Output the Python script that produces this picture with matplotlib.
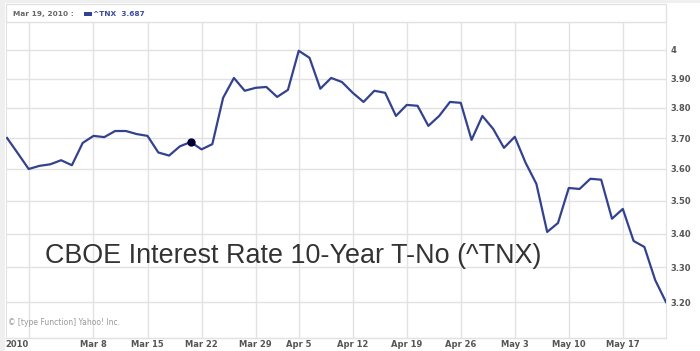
import numpy as np
import matplotlib.pyplot as plt
from matplotlib.patches import Rectangle
from matplotlib.ticker import NullLocator

# ^TNX daily closes, one value per trading day (index on the x axis)
tnx = [3.70, 3.65, 3.60, 3.61, 3.615, 3.628, 3.612, 3.684, 3.707, 3.703,
       3.723, 3.723, 3.713, 3.707, 3.653, 3.643, 3.673, 3.687, 3.663, 3.68,
       3.834, 3.902, 3.858, 3.868, 3.871, 3.837, 3.861, 3.997, 3.972, 3.865,
       3.902, 3.888, 3.851, 3.820, 3.858, 3.851, 3.773, 3.810, 3.807, 3.740,
       3.773, 3.820, 3.817, 3.694, 3.773, 3.730, 3.668, 3.704, 3.620, 3.553,
       3.405, 3.432, 3.540, 3.537, 3.569, 3.566, 3.445, 3.475, 3.378, 3.360,
       3.263, 3.200]
marker_idx = 17   # Mar 19, 2010

week_idx = [2, 8, 13, 18, 23, 27, 32, 37, 42, 47, 52, 57]
week_labels = ['2010', 'Mar 8', 'Mar 15', 'Mar 22', 'Mar 29', 'Apr 5',
               'Apr 12', 'Apr 19', 'Apr 26', 'May 3', 'May 10', 'May 17']
y_ticks = [3.20, 3.30, 3.40, 3.50, 3.60, 3.70, 3.80, 3.90, 4.0]
y_labels = ['3.20', '3.30', '3.40', '3.50', '3.60', '3.70', '3.80', '3.90', '4']

line_col = '#33428f'
grid_col = '#e2e2e2'
lab_col = '#555555'

fig = plt.figure(figsize=(7, 3.51), dpi=100)
W, H = 700, 351

# grey page border strips (left and top)
fig.patches.append(Rectangle((0, 0), 5 / W, 1, transform=fig.transFigure,
                             facecolor='#efefef', edgecolor='none', zorder=0))
fig.patches.append(Rectangle((0, 1 - 3 / H), 1, 3 / H, transform=fig.transFigure,
                             facecolor='#efefef', edgecolor='none', zorder=0))

left, right = 6 / W, 666 / W
top, bottom = 1 - 22 / H, 1 - 338 / H
ax = fig.add_axes([left, bottom, right - left, top - bottom])

x = np.arange(len(tnx))
ax.plot(x, tnx, color=line_col, lw=1.6, solid_joinstyle='round', zorder=3)
ax.plot(marker_idx, tnx[marker_idx], 'o', color='#000033', ms=5, zorder=4)

ax.set_yscale('log')
ax.set_ylim(3.10, 4.10)
ax.set_xlim(-0.1, 61.0)
ax.yaxis.set_minor_locator(NullLocator())
ax.set_yticks(y_ticks)
ax.set_yticklabels(y_labels)
ax.yaxis.tick_right()
ax.set_xticks(week_idx)
ax.set_xticklabels(week_labels)
ax.tick_params(axis='both', length=0, labelsize=6, labelcolor=lab_col)
ax.tick_params(axis='y', pad=3)
ax.tick_params(axis='x', pad=1.5)
for t in ax.get_xticklabels() + ax.get_yticklabels():
    t.set_fontweight('bold')
ax.get_xticklabels()[0].set_ha('right')
ax.grid(True, color=grid_col, lw=1)
ax.set_axisbelow(True)
for s in ax.spines.values():
    s.set_color(grid_col)

# header box with the marker readout
fig.patches.append(Rectangle((left, top), right - left, 18 / H,
                             transform=fig.transFigure, facecolor='white',
                             edgecolor=grid_col, lw=1, zorder=1))
fig.text(13 / W, 1 - 14 / H, 'Mar 19, 2010 :', fontsize=5.3, fontweight='bold',
         color='#666666', va='center')
fig.patches.append(Rectangle((84 / W, 1 - 16 / H), 8 / W, 4 / H,
                             transform=fig.transFigure, facecolor='#33428f',
                             edgecolor='none', zorder=2))
fig.text(93 / W, 1 - 14 / H, '^TNX  3.687', fontsize=5.3, fontweight='bold',
         color='#3a4aa0', va='center')

# bottom label strip border
fig.lines.append(plt.Line2D([left, right], [bottom, bottom], transform=fig.transFigure,
                            color=grid_col, lw=1))

ax.text(0.003, 0.05, '\u00a9 [type Function] Yahoo! Inc.', transform=ax.transAxes,
        fontsize=5.5, color='#999999', va='center')

fig.text(45 / W, 1 - 256 / H, 'CBOE Interest Rate 10-Year T-No (^TNX)',
         fontsize=19.4, family='Liberation Sans', color='#333333', va='center')

fig.savefig('out.png', dpi=100)
